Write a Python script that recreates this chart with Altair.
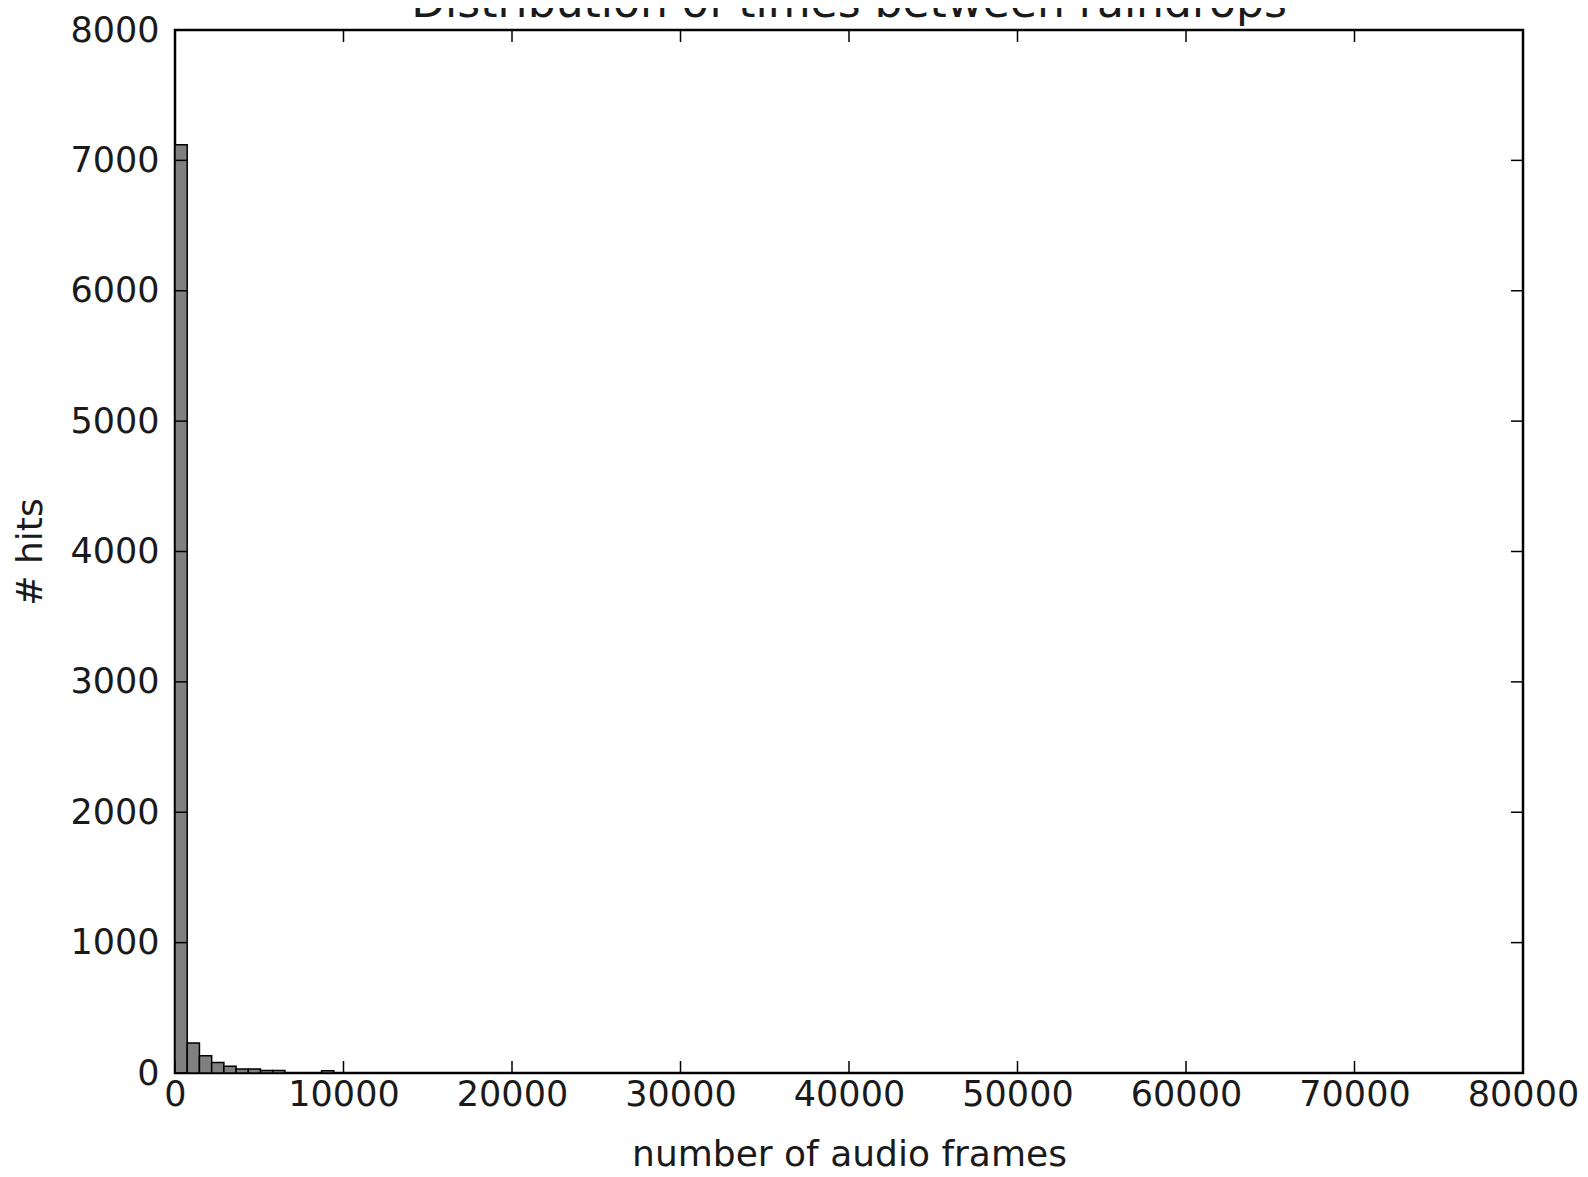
import altair as alt
import pandas as pd

# Histogram data (bin width ~725 audio frames)
bin_width = 725
counts = [7120, 230, 133, 81, 51, 31, 31, 19, 19, 0, 0, 0, 18]
x_ticks = [0, 10000, 20000, 30000, 40000, 50000, 60000, 70000, 80000]
y_ticks = [0, 1000, 2000, 3000, 4000, 5000, 6000, 7000, 8000]

bins = pd.DataFrame({
    "start": [i * bin_width for i in range(len(counts))],
    "end": [(i + 1) * bin_width for i in range(len(counts))],
    "count": counts,
})
xt = pd.DataFrame({"xv": x_ticks})
yt = pd.DataFrame({"yv": y_ticks})

W, H = 1348, 1043
FONT = "DejaVu Sans"
TICK = 12
TXT = "#1a1a1a"

xscale = alt.Scale(domain=[0, 80000], nice=False, zero=False)
yscale = alt.Scale(domain=[0, 8000], nice=False, zero=False)

bars = alt.Chart(bins).mark_rect(
    fill="#808080", stroke="black", strokeWidth=1.5
).encode(
    x=alt.X("start:Q", scale=xscale,
            axis=alt.Axis(values=x_ticks, title="number of audio frames",
                          grid=False, domain=False, ticks=False, tickSize=0,
                          labelPadding=4, titlePadding=25, labelFlush=False,
                          labelOverlap=False, format="d")),
    x2="end:Q",
    y=alt.Y("count:Q", scale=yscale,
            axis=alt.Axis(values=y_ticks, title="# hits",
                          grid=False, domain=False, ticks=False, tickSize=0,
                          labelPadding=16, titlePadding=20, labelFlush=False,
                          labelOverlap=False, format="d")),
    y2=alt.datum(0),
)

xb = alt.Chart(xt).mark_rule(color="black", strokeWidth=1.5).encode(
    x=alt.X("xv:Q", scale=xscale), y=alt.value(H), y2=alt.value(H - TICK))
xtp = alt.Chart(xt).mark_rule(color="black", strokeWidth=1.5).encode(
    x=alt.X("xv:Q", scale=xscale), y=alt.value(0), y2=alt.value(TICK))
yl = alt.Chart(yt).mark_rule(color="black", strokeWidth=1.5).encode(
    y=alt.Y("yv:Q", scale=yscale), x=alt.value(0), x2=alt.value(TICK))
yr = alt.Chart(yt).mark_rule(color="black", strokeWidth=1.5).encode(
    y=alt.Y("yv:Q", scale=yscale), x=alt.value(W), x2=alt.value(W - TICK))

chart = alt.layer(bars, xb, xtp, yl, yr).properties(
    width=W, height=H,
    title=alt.TitleParams("Distribution of times between raindrops",
                          font=FONT, fontSize=44, fontWeight="normal",
                          color=TXT, anchor="middle", offset=0, dy=48,
                          baseline="alphabetic"),
    autosize=alt.AutoSizeParams(type="none"),
    padding={"left": 167, "top": 22, "right": 56, "bottom": 96},
).configure_view(
    stroke="black", strokeWidth=2.5
).configure_axis(
    labelFont=FONT, labelFontSize=35, labelColor=TXT,
    titleFont=FONT, titleFontSize=36, titleColor=TXT,
    titleFontWeight="normal",
)

chart.save("out.html", embed_options={"renderer": "svg", "actions": False})
